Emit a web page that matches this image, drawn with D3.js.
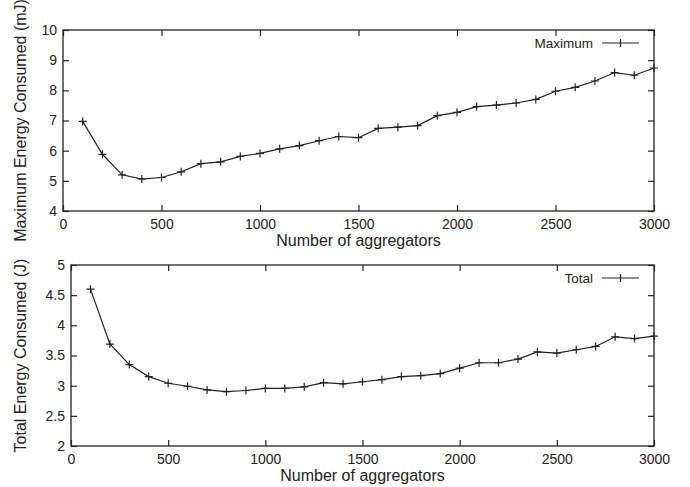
<!DOCTYPE html>
<html>
<head>
<meta charset="utf-8">
<script src="https://cdn.jsdelivr.net/npm/d3@7"></script>
<style>
  body { margin: 0; background: #fff; }
  svg { display: block; font-family: "Liberation Sans", Arial, sans-serif; }
  .domain { display: none; }
  .tick line { stroke: #222; stroke-width: 1.2; }
  .tick text { font-size: 14px; fill: #222; font-family: "Liberation Sans", Arial, sans-serif; }
</style>
</head>
<body>
<div id="chart"></div>
<script>
// x values shared by both panels
const aggregators = [100, 200, 300, 400, 500, 600, 700, 800, 900, 1000,
    1100, 1200, 1300, 1400, 1500, 1600, 1700, 1800, 1900, 2000,
    2100, 2200, 2300, 2400, 2500, 2600, 2700, 2800, 2900, 3000];

// maximum energy per node (mJ)
const maxEnergy = [6.97, 5.88, 5.2, 5.06, 5.11, 5.3, 5.57, 5.63, 5.81, 5.91,
    6.06, 6.17, 6.33, 6.47, 6.43, 6.74, 6.78, 6.83, 7.16, 7.27,
    7.46, 7.51, 7.58, 7.7, 7.97, 8.1, 8.31, 8.59, 8.5, 8.74];

// total energy (J)
const totalEnergy = [4.6, 3.69, 3.35, 3.15, 3.04, 2.99, 2.93, 2.9, 2.92, 2.955,
    2.955, 2.98, 3.05, 3.03, 3.065, 3.1, 3.15, 3.165, 3.2, 3.29,
    3.38, 3.38, 3.44, 3.56, 3.54, 3.595, 3.65, 3.81, 3.78, 3.82];

const xTicks = [0, 500, 1000, 1500, 2000, 2500, 3000];
const maxTicks = [4, 5, 6, 7, 8, 9, 10];
const totalTicks = [2, 2.5, 3, 3.5, 4, 4.5, 5];

const W = 690, H = 487;

const svg = d3.select("#chart")
    .append("svg")
    .attr("width", W)
    .attr("height", H);

function drawPanel(opts) {
    const x = d3.scaleLinear().domain([0, 3000]).range([opts.left, opts.right]);
    const y = d3.scaleLinear().domain(opts.yDomain).range([opts.bottom, opts.top]);
    const g = svg.append("g");

    // ticks point inward on all four sides, labels only bottom/left
    g.append("g")
        .attr("transform", `translate(0,${opts.bottom})`)
        .call(d3.axisBottom(x).tickValues(xTicks).tickSizeInner(-6).tickSizeOuter(0).tickPadding(8).tickFormat(d3.format("d")));
    g.append("g")
        .attr("transform", `translate(0,${opts.top})`)
        .call(d3.axisTop(x).tickValues(xTicks).tickSizeInner(-6).tickSizeOuter(0).tickFormat(""));
    g.append("g")
        .attr("transform", `translate(${opts.left},0)`)
        .call(d3.axisLeft(y).tickValues(opts.yTicks).tickSizeInner(-6).tickSizeOuter(0).tickPadding(6).tickFormat(d3.format("")));
    g.append("g")
        .attr("transform", `translate(${opts.right},0)`)
        .call(d3.axisRight(y).tickValues(opts.yTicks).tickSizeInner(-6).tickSizeOuter(0).tickFormat(""));

    g.append("rect")
        .attr("x", opts.left)
        .attr("y", opts.top)
        .attr("width", opts.right - opts.left)
        .attr("height", opts.bottom - opts.top)
        .attr("fill", "none")
        .attr("stroke", "#222")
        .attr("stroke-width", 1.3);

    const pts = aggregators.map((a, i) => [a, opts.values[i]]);
    g.append("path")
        .datum(pts)
        .attr("fill", "none")
        .attr("stroke", "#222")
        .attr("stroke-width", 1.2)
        .attr("d", d3.line().x(d => x(d[0])).y(d => y(d[1])));

    // "+" markers
    g.selectAll(".pt")
        .data(pts)
        .enter()
        .append("path")
        .attr("class", "pt")
        .attr("stroke", "#222")
        .attr("stroke-width", 1.2)
        .attr("d", d => {
            const cx = x(d[0]), cy = y(d[1]);
            return `M${cx - 4},${cy}H${cx + 4}M${cx},${cy - 4}V${cy + 4}`;
        });

    // legend
    const ly = opts.top + 13;
    g.append("text")
        .attr("x", 593)
        .attr("y", ly)
        .attr("dy", "0.35em")
        .attr("text-anchor", "end")
        .style("font-size", "13.5px")
        .style("fill", "#222")
        .text(opts.legend);
    g.append("line")
        .attr("x1", 602).attr("x2", 639)
        .attr("y1", ly).attr("y2", ly)
        .attr("stroke", "#222").attr("stroke-width", 1.2);
    g.append("path")
        .attr("stroke", "#222").attr("stroke-width", 1.2)
        .attr("d", `M620.5,${ly - 4}V${ly + 4}`);

    g.append("text")
        .attr("x", (opts.left + opts.right) / 2)
        .attr("y", opts.bottom + 35)
        .attr("text-anchor", "middle")
        .style("font-size", "16px")
        .style("fill", "#222")
        .text("Number of aggregators");

    g.append("text")
        .attr("transform", `translate(26,${(opts.top + opts.bottom) / 2}) rotate(-90)`)
        .attr("text-anchor", "middle")
        .style("font-size", "16px")
        .style("fill", "#222")
        .text(opts.yLabel);
}

drawPanel({
    left: 63, right: 654, top: 30, bottom: 211,
    yDomain: [4, 10], yTicks: maxTicks, values: maxEnergy,
    legend: "Maximum", yLabel: "Maximum Energy Consumed (mJ)"
});

drawPanel({
    left: 71, right: 654, top: 265, bottom: 446,
    yDomain: [2, 5], yTicks: totalTicks, values: totalEnergy,
    legend: "Total", yLabel: "Total Energy Consumed (J)"
});
</script>
</body>
</html>
